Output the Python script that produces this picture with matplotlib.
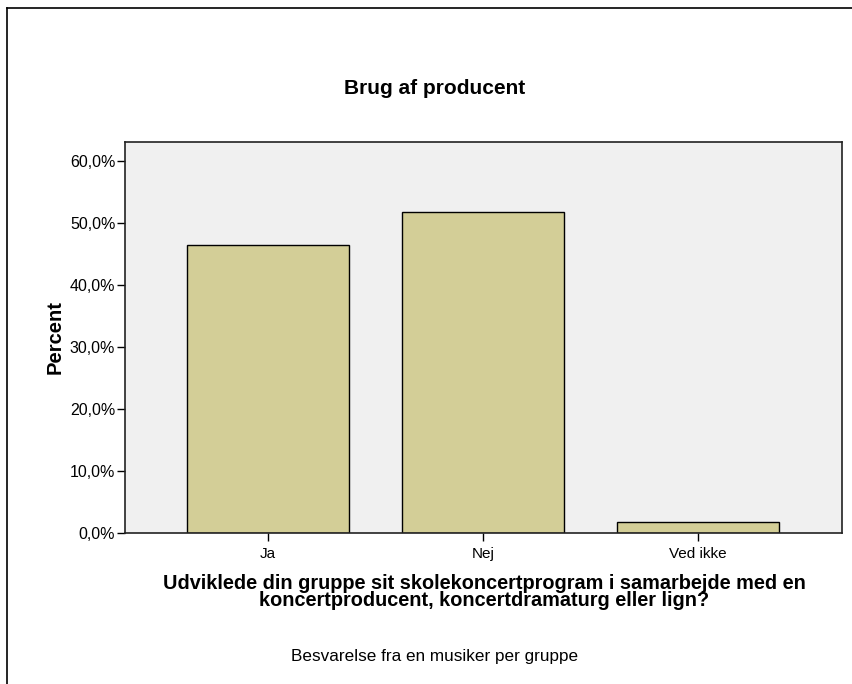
import matplotlib
matplotlib.use("Agg")
import matplotlib.pyplot as plt
from matplotlib.lines import Line2D
from matplotlib.ticker import FuncFormatter

plt.rcParams['font.family'] = ['Liberation Sans', 'DejaVu Sans']

categories = ["Ja", "Nej", "Ved ikke"]
percent = [46.4, 51.8, 1.8]
y_ticks = [0, 10, 20, 30, 40, 50, 60]

W, H = 853, 684
fig = plt.figure(figsize=(W / 100, H / 100), dpi=100)
ax = fig.add_axes([125 / W, 1 - 533 / H, (842 - 125) / W, (533 - 142) / H])

ax.set_facecolor("#f0f0f0")
x = range(len(categories))
ax.bar(x, percent, width=0.75, color="#d3ce97", edgecolor="black", linewidth=1.0, zorder=2)

ax.set_xlim(-0.665, 2.67)
ax.set_ylim(0, 63.1)
ax.set_xticks(list(x))
ax.set_xticklabels(categories, fontsize=11)
ax.set_yticks(y_ticks)
ax.yaxis.set_major_formatter(FuncFormatter(lambda v, p: f"{v:.1f}%".replace(".", ",")))
ax.tick_params(axis="y", labelsize=11.5, length=6, width=1, direction="out", pad=1)
ax.tick_params(axis="x", length=6, width=1, direction="out", pad=4)
for s in ax.spines.values():
    s.set_linewidth(1.2)
    s.set_color("#222222")

ax.set_ylabel("Percent", fontsize=14.5, fontweight="bold", labelpad=4)

fig.text(435 / W, 1 - 88 / H, "Brug af producent", ha="center", va="center",
         fontsize=15, fontweight="bold")
fig.text(484 / W, 1 - 592 / H,
         "Udviklede din gruppe sit skolekoncertprogram i samarbejde med en\nkoncertproducent, koncertdramaturg eller lign?",
         ha="center", va="center", fontsize=14.3, fontweight="bold", linespacing=0.9)
fig.text(435 / W, 1 - 657 / H, "Besvarelse fra en musiker per gruppe", ha="center",
         va="center", fontsize=12.3)

# outer frame (top and left edges)
fig.add_artist(Line2D([7 / W, 1], [1 - 8 / H, 1 - 8 / H], transform=fig.transFigure,
                      color="black", linewidth=1.2))
fig.add_artist(Line2D([7 / W, 7 / W], [1 - 8 / H, 0], transform=fig.transFigure,
                      color="black", linewidth=1.2))

fig.savefig("out.png", dpi=100)
